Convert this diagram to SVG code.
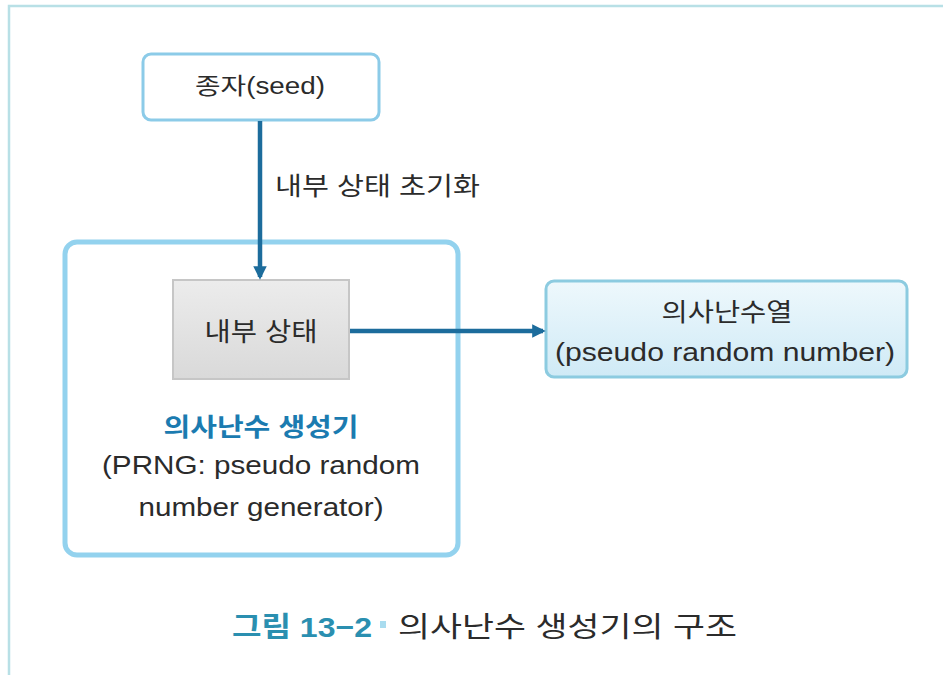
<svg xmlns="http://www.w3.org/2000/svg" width="943" height="675" viewBox="0 0 943 675">
  <style>
    text { font-family: "Liberation Sans", "Noto Sans CJK KR", sans-serif; fill: #2b2b2b; }
    .c { text-anchor: middle; }
    .lbl { font-size: 25px; }
    .title { font-weight: bold; fill: #1b7bb0; }
    .cap { font-size: 28px; }
    .capnum { font-weight: bold; fill: #2a8fb0; }
    .wire { stroke: #1c6c9c; stroke-width: 4.5; fill: none; }
  </style>
  <defs>
    <marker id="arrow" viewBox="0 0 10 10" refX="8" refY="5" markerWidth="3" markerHeight="3" orient="auto">
      <path d="M0,0 L10,5 L0,10 Z" fill="#1c6c9c"/>
    </marker>
    <linearGradient id="greyFill" x1="0" y1="0" x2="0" y2="1">
      <stop offset="0" stop-color="#ececec"/>
      <stop offset="1" stop-color="#d9d9d9"/>
    </linearGradient>
    <linearGradient id="blueFill" x1="0" y1="0" x2="0" y2="1">
      <stop offset="0" stop-color="#eef8fc"/>
      <stop offset="1" stop-color="#cfeaf6"/>
    </linearGradient>
  </defs>

  <rect width="943" height="675" fill="#ffffff"/>
  <!-- page frame -->
  <path d="M943,6 H9 V675" fill="none" stroke="#b8e0e6" stroke-width="2.5"/>

  <!-- generator container -->
  <g id="generator">
    <rect x="65" y="242" width="393" height="313" rx="12" fill="#ffffff" stroke="#93d2ee" stroke-width="5"/>
    <text class="lbl c title" x="261" y="436" textLength="195" lengthAdjust="spacingAndGlyphs">의사난수 생성기</text>
    <text class="lbl c" x="261" y="474" font-size="26" textLength="318" lengthAdjust="spacingAndGlyphs">(PRNG: pseudo random</text>
    <text class="lbl c" x="261" y="516" font-size="26" textLength="245" lengthAdjust="spacingAndGlyphs">number generator)</text>
  </g>

  <g id="seed">
    <rect x="143" y="54" width="236" height="66" rx="8" fill="#ffffff" stroke="#8ccbe8" stroke-width="3"/>
    <text class="c" x="260" y="94" font-size="23" textLength="130" lengthAdjust="spacingAndGlyphs">종자(seed)</text>
  </g>

  <g id="state">
    <rect x="173" y="280" width="176" height="99" fill="url(#greyFill)" stroke="#c6c6c6" stroke-width="2"/>
    <text class="c" x="261" y="341" font-size="26" textLength="113" lengthAdjust="spacingAndGlyphs">내부 상태</text>
  </g>

  <g id="output">
    <rect x="546" y="281" width="361" height="96" rx="8" fill="url(#blueFill)" stroke="#8ccbe0" stroke-width="3"/>
    <text class="lbl c" x="727" y="321" textLength="131" lengthAdjust="spacingAndGlyphs">의사난수열</text>
    <text class="c" x="725" y="361" font-size="26" textLength="340" lengthAdjust="spacingAndGlyphs">(pseudo random number)</text>
  </g>

  <g id="connectors">
    <line class="wire" x1="260" y1="121" x2="260" y2="277" marker-end="url(#arrow)"/>
    <text class="lbl" x="275" y="195" textLength="205" lengthAdjust="spacingAndGlyphs">내부 상태 초기화</text>
    <line class="wire" x1="350" y1="331" x2="543" y2="331" marker-end="url(#arrow)"/>
  </g>

  <!-- caption -->
  <g id="caption">
    <text class="cap capnum" x="232" y="637" textLength="140" lengthAdjust="spacingAndGlyphs">그림 13−2</text>
    <rect x="380" y="621" width="6" height="7" fill="#a9dcef"/>
    <text class="cap" x="398" y="637" textLength="339" lengthAdjust="spacingAndGlyphs">의사난수 생성기의 구조</text>
  </g>
</svg>
